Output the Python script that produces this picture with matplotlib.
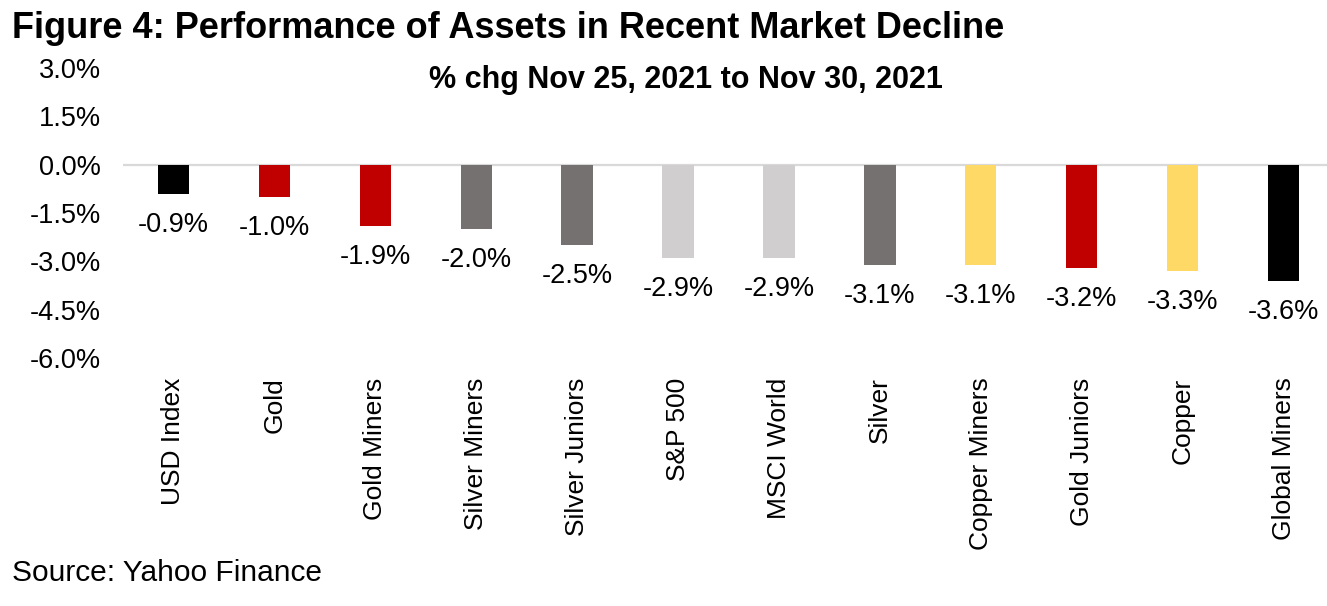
import matplotlib.pyplot as plt

# Dados (variação % entre 25/11/2021 e 30/11/2021)
categorias = ["USD Index", "Gold", "Gold Miners", "Silver Miners", "Silver Juniors",
              "S&P 500", "MSCI World", "Silver", "Copper Miners", "Gold Juniors",
              "Copper", "Global Miners"]
valores = [-0.9, -1.0, -1.9, -2.0, -2.5, -2.9, -2.9, -3.1, -3.1, -3.2, -3.3, -3.6]
cores = ["#000000", "#C00000", "#C00000", "#767171", "#767171", "#D0CECE",
         "#D0CECE", "#767171", "#FFD966", "#C00000", "#FFD966", "#000000"]
yticks = [3.0, 1.5, 0.0, -1.5, -3.0, -4.5, -6.0]

plt.rcParams["font.family"] = ["Liberation Sans", "DejaVu Sans"]

W, H = 1327, 606
fig = plt.figure(figsize=(W / 100, H / 100), dpi=100)
# eixo posicionado em pixels: esquerda 123, direita ~1334, topo 68, base 358
ax = fig.add_axes([123 / W, 1 - 358 / H, (1334 - 123) / W, (358 - 68) / H])

x = range(len(categorias))
ax.bar(x, valores, width=0.31, color=cores, zorder=2)

# rótulos de valor abaixo das barras
for xi, v in zip(x, valores):
    ax.annotate(f"{v:.1f}%", (xi, v), xytext=(0, -22.5), textcoords="offset points",
                ha="center", va="center", fontsize=19.5)

ax.axhline(0, color="#D9D9D9", linewidth=1.6, zorder=1)
ax.set_ylim(-6.0, 3.0)
ax.set_xlim(-0.5, len(categorias) - 0.5)
ax.set_yticks(yticks)
ax.set_yticklabels([f"{t:.1f}%" for t in yticks], fontsize=19.5)
ax.set_xticks(list(x))
ax.set_xticklabels(categorias, rotation=90, fontsize=19)
ax.tick_params(axis="both", length=0)
ax.tick_params(axis="y", pad=16)
ax.tick_params(axis="x", pad=14)
for s in ax.spines.values():
    s.set_visible(False)

fig.text(12 / W, 1 - 28 / H, "Figure 4: Performance of Assets in Recent Market Decline",
         fontsize=26, fontweight="bold", ha="left", va="center")
fig.text(686 / W, 1 - 80 / H, "% chg Nov 25, 2021 to Nov 30, 2021",
         fontsize=22, fontweight="bold", ha="center", va="center")
fig.text(12 / W, 1 - 573 / H, "Source: Yahoo Finance", fontsize=21.5, ha="left", va="center")

fig.savefig("out.png", dpi=100)
